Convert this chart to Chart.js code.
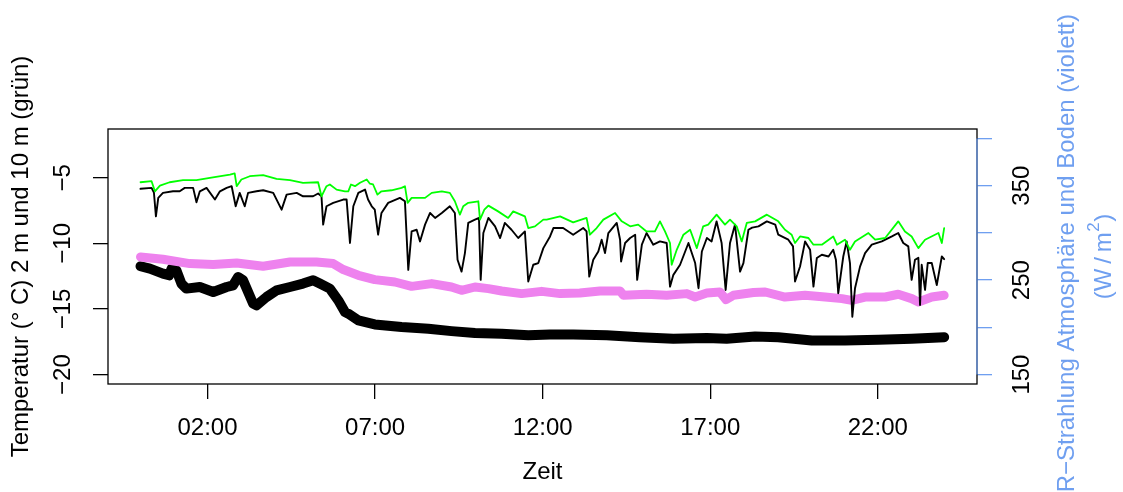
<!DOCTYPE html>
<html>
<head>
<meta charset="utf-8">
<title>Temperatur und IR-Strahlung</title>
<style>
  html, body { margin: 0; padding: 0; background: #fff; }
  #chart { display: block; }
</style>
</head>
<body>
<canvas id="chart" width="1123" height="492"></canvas>
<script src="https://cdn.jsdelivr.net/npm/chart.js@4/dist/chart.umd.min.js"></script>
<script>
// [Stunde, Wert] pairs
var temp10m = [
  [0.00,-5.34],[0.33,-5.26],[0.43,-6.03],[0.58,-5.59],[0.87,-5.34],[1.27,-5.18],[1.67,-5.18],[2.07,-5.00],[2.67,-4.75],[2.81,-4.67],
  [2.87,-5.64],[3.01,-5.13],[3.26,-4.88],[3.66,-4.80],[4.06,-5.08],[4.46,-5.18],[4.85,-5.38],[5.30,-5.34],[5.40,-6.41],[5.55,-5.64],
  [5.65,-5.51],[5.85,-5.90],[6.10,-6.03],[6.20,-6.03],[6.28,-5.51],[6.40,-5.64],[6.55,-5.38],[6.75,-5.13],[6.84,-5.44],[6.94,-5.51],
  [7.07,-6.28],[7.19,-6.03],[7.49,-5.95],[7.79,-5.77],[7.89,-5.64],[7.97,-6.91],[8.09,-6.53],[8.49,-6.53],[8.69,-6.15],[8.99,-6.03],
  [9.23,-6.15],[9.38,-6.79],[9.53,-7.81],[9.63,-7.17],[9.78,-6.91],[10.08,-6.79],[10.13,-8.19],[10.26,-7.43],[10.38,-7.12],[10.67,-7.56],
  [10.97,-8.06],[11.12,-7.56],[11.47,-7.94],[11.57,-8.83],[11.77,-8.70],[12.02,-8.19],[12.12,-8.19],[12.52,-7.94],[12.91,-8.40],[13.31,-8.06],
  [13.41,-9.34],[13.61,-8.83],[13.81,-8.19],[14.16,-7.68],[14.36,-8.32],[14.61,-8.70],[14.85,-8.57],[15.10,-9.09],[15.35,-9.09],[15.50,-8.32],
  [15.65,-9.09],[15.80,-9.97],[15.85,-11.63],[16.00,-10.49],[16.20,-9.34],[16.40,-8.96],[16.60,-10.36],[16.79,-8.70],[16.94,-8.57],[17.19,-7.81],
  [17.44,-8.57],[17.59,-8.19],[17.79,-8.70],[17.94,-9.85],[18.09,-8.44],[18.34,-8.32],[18.69,-7.81],[19.03,-8.32],[19.23,-8.96],[19.43,-9.34],
  [19.53,-9.97],[19.68,-9.47],[19.93,-9.59],[20.08,-10.10],[20.33,-10.10],[20.67,-9.47],[20.78,-10.10],[21.02,-9.72],[21.17,-10.49],[21.32,-9.85],
  [21.72,-9.21],[21.92,-9.72],[22.22,-9.59],[22.61,-8.32],[22.81,-9.09],[23.01,-9.47],[23.21,-10.36],[23.41,-9.72],[23.81,-9.21],[23.91,-9.97],
  [23.98,-8.83]
];

var temp2m = [
  [0.00,-5.84],[0.33,-5.77],[0.40,-6.12],[0.46,-7.94],[0.53,-6.53],[0.67,-6.15],[0.97,-6.03],[1.17,-6.03],[1.32,-5.77],[1.57,-5.77],
  [1.67,-6.87],[1.77,-6.03],[1.97,-5.77],[2.22,-6.66],[2.37,-6.03],[2.57,-5.77],[2.72,-5.64],[2.84,-7.17],[2.96,-6.15],[3.11,-7.17],
  [3.21,-6.15],[3.46,-6.03],[3.66,-5.95],[3.96,-6.15],[4.21,-7.43],[4.36,-6.28],[4.66,-6.15],[4.85,-6.41],[5.15,-6.41],[5.30,-6.20],
  [5.40,-6.41],[5.45,-8.57],[5.55,-7.17],[5.75,-6.91],[6.05,-6.66],[6.15,-6.66],[6.25,-9.97],[6.35,-7.17],[6.50,-6.15],[6.70,-5.90],
  [6.79,-6.66],[6.90,-7.17],[6.99,-7.43],[7.09,-9.34],[7.19,-7.68],[7.39,-6.91],[7.74,-6.53],[7.89,-6.79],[7.99,-12.02],[8.09,-9.09],
  [8.24,-8.96],[8.34,-9.85],[8.49,-8.57],[8.64,-7.68],[8.79,-8.06],[8.99,-7.68],[9.23,-7.17],[9.38,-7.68],[9.46,-11.25],[9.58,-12.15],
  [9.68,-10.74],[9.78,-8.44],[9.98,-8.19],[10.10,-8.06],[10.15,-12.78],[10.23,-9.21],[10.38,-8.06],[10.58,-8.70],[10.73,-9.59],[10.87,-8.44],
  [11.07,-8.96],[11.27,-9.59],[11.47,-9.09],[11.57,-12.91],[11.72,-11.63],[11.87,-11.50],[12.02,-10.36],[12.22,-9.47],[12.32,-8.83],[12.61,-8.83],
  [12.91,-9.34],[13.21,-8.83],[13.31,-9.09],[13.39,-12.53],[13.51,-11.25],[13.66,-10.62],[13.76,-9.72],[13.86,-10.74],[13.96,-9.21],[14.21,-8.44],
  [14.31,-9.72],[14.34,-11.38],[14.46,-9.97],[14.61,-9.59],[14.76,-9.34],[14.82,-12.78],[14.96,-10.10],[15.10,-9.21],[15.30,-10.10],[15.50,-9.85],
  [15.70,-9.97],[15.80,-13.30],[15.90,-12.40],[16.10,-11.63],[16.35,-9.97],[16.55,-11.50],[16.65,-13.42],[16.75,-10.62],[16.90,-9.59],[17.04,-9.85],
  [17.19,-8.32],[17.34,-9.97],[17.46,-13.55],[17.59,-9.97],[17.74,-8.57],[17.89,-12.15],[17.99,-11.50],[18.14,-8.96],[18.25,-8.80],[18.44,-8.70],
  [18.69,-8.32],[18.94,-8.57],[19.03,-9.34],[19.33,-9.72],[19.47,-10.23],[19.53,-12.91],[19.68,-11.76],[19.83,-9.85],[19.98,-10.49],[20.08,-13.30],
  [20.18,-11.12],[20.33,-10.87],[20.53,-11.00],[20.67,-10.49],[20.75,-11.25],[20.82,-13.80],[20.97,-11.00],[21.07,-9.85],[21.17,-11.50],[21.24,-15.59],
  [21.32,-13.42],[21.47,-11.77],[21.62,-10.74],[21.82,-10.10],[22.12,-9.85],[22.42,-9.47],[22.61,-9.21],[22.76,-9.97],[22.91,-10.23],[23.01,-12.78],
  [23.11,-11.25],[23.21,-11.10],[23.26,-14.70],[23.31,-11.63],[23.41,-13.55],[23.49,-11.50],[23.61,-11.50],[23.76,-13.17],[23.91,-11.00],[23.98,-11.20]
];

// W/m2, rechte Achse
var irAtmos = [
  [0.00,274.5],[0.67,272.1],[1.47,267.5],[2.17,266.5],[2.87,268.2],[3.66,264.7],[4.46,269.2],[5.25,269.2],[5.75,267.5],[6.05,261.2],
  [6.50,255.1],[6.99,250.5],[7.59,248.0],[8.09,243.4],[8.69,246.3],[9.28,242.7],[9.58,239.2],[9.98,242.7],[10.38,241.0],[10.78,238.5],
  [11.37,235.7],[11.97,238.1],[12.52,235.7],[13.11,236.3],[13.71,238.5],[14.31,238.5],[14.41,233.9],[15.10,235.0],[15.70,233.9],[16.30,235.7],
  [16.55,232.1],[16.90,236.3],[17.29,237.4],[17.47,229.3],[17.69,233.9],[18.29,236.8],[18.64,237.4],[19.23,232.1],[19.83,233.9],[20.43,232.1],
  [20.93,230.4],[21.22,228.6],[21.62,232.1],[22.22,232.1],[22.61,235.0],[23.01,230.4],[23.21,226.8],[23.61,232.1],[23.98,233.9]
];

var irBoden = [
  [0.00,264.7],[0.28,262.2],[0.67,256.9],[0.85,255.1],[0.93,262.2],[1.07,260.4],[1.22,246.3],[1.37,241.0],[1.77,242.7],[2.17,237.4],
  [2.57,242.7],[2.76,244.5],[2.91,253.3],[3.06,249.8],[3.36,225.1],[3.46,223.3],[3.76,232.1],[4.06,239.2],[4.46,242.7],[4.85,246.3],
  [5.15,249.8],[5.35,246.3],[5.65,241.0],[5.90,228.6],[6.10,216.2],[6.20,214.5],[6.50,207.4],[6.99,203.1],[7.79,200.3],[8.59,198.6],
  [9.28,196.0],[9.98,193.9],[10.78,193.3],[11.57,191.5],[12.22,192.5],[12.91,192.5],[13.91,191.5],[14.90,189.6],[15.90,188.0],[16.90,188.6],
  [17.49,188.0],[18.34,190.4],[19.03,189.6],[20.03,186.1],[21.02,186.1],[22.02,186.9],[23.01,188.0],[23.98,189.6]
];

var xTickHours = [2, 7, 12, 17, 22];
var leftTicks = [-20, -15, -10, -5];
var rightTicks = [150, 200, 250, 300, 350, 400];
var rightLabels = [150, 250, 350];

var leftTitle = 'Temperatur (° C) 2 m und 10 m (grün)';
var rightTitle = 'IR\u2212Strahlung Atmosphäre und Boden (violett)';
var xTitle = 'Zeit';

var BLUE = '#6f9ff0';
var FONT = '"Liberation Sans", Arial, Helvetica, sans-serif';

function pts(a) { return a.map(function (p) { return { x: p[0], y: p[1] }; }); }
function hhmm(v) { return (v < 10 ? '0' : '') + v + ':00'; }
function minus(v) { return String(v).replace('-', '\u2212'); }

// R-style frame, rotated tick labels and side titles
var rFrame = {
  id: 'rFrame',
  afterDraw: function (chart) {
    var ctx = chart.ctx, a = chart.chartArea;
    var yl = chart.scales.y, yr = chart.scales.y2;
    var mid = (a.top + a.bottom) / 2;
    ctx.save();
    ctx.strokeStyle = '#000';
    ctx.lineWidth = 1.3;
    ctx.strokeRect(a.left, a.top, a.right - a.left, a.bottom - a.top);

    ctx.strokeStyle = BLUE;
    ctx.beginPath();
    ctx.moveTo(a.right, yr.getPixelForValue(rightTicks[0]));
    ctx.lineTo(a.right, yr.getPixelForValue(rightTicks[rightTicks.length - 1]));
    ctx.stroke();

    var big = '24px ' + FONT, small = '17px ' + FONT;
    ctx.font = big;
    ctx.textAlign = 'center';
    ctx.textBaseline = 'middle';
    function vtext(t, x, y) {
      ctx.save();
      ctx.translate(x, y);
      ctx.rotate(-Math.PI / 2);
      ctx.fillText(t, 0, 0);
      ctx.restore();
    }
    ctx.fillStyle = '#000';
    leftTicks.forEach(function (v) { vtext(minus(v), a.left - 45, yl.getPixelForValue(v)); });
    rightLabels.forEach(function (v) { vtext(String(v), a.right + 45, yr.getPixelForValue(v)); });
    vtext(leftTitle, a.left - 87, mid);
    ctx.fillStyle = BLUE;
    vtext(rightTitle, a.right + 90, mid);

    // (W/m^2) with a raised 2
    var p1 = '(W\u2009/\u2009m', p2 = '2', p3 = ')';
    ctx.font = big; var w1 = ctx.measureText(p1).width, w3 = ctx.measureText(p3).width;
    ctx.font = small; var w2 = ctx.measureText(p2).width;
    ctx.save();
    ctx.translate(a.right + 127, mid);
    ctx.rotate(-Math.PI / 2);
    ctx.textAlign = 'left';
    var x0 = -(w1 + w2 + w3 + 1) / 2;
    ctx.font = big; ctx.fillText(p1, x0, 0);
    ctx.font = small; ctx.fillText(p2, x0 + w1 + 0.5, -10);
    ctx.font = big; ctx.fillText(p3, x0 + w1 + w2 + 1, 0);
    ctx.restore();
    ctx.restore();
  }
};

var ctx = document.getElementById('chart').getContext('2d');
var chart = new Chart(ctx, {
  type: 'line',
  data: {
    datasets: [
      { label: '10 m', data: pts(temp10m), yAxisID: 'y', borderColor: '#00ff00', borderWidth: 1.8 },
      { label: '2 m', data: pts(temp2m), yAxisID: 'y', borderColor: '#000000', borderWidth: 1.9 },
      { label: 'Atmosphäre', data: pts(irAtmos), yAxisID: 'y2', borderColor: '#ee82ee', borderWidth: 9 },
      { label: 'Boden', data: pts(irBoden), yAxisID: 'y2', borderColor: '#000000', borderWidth: 10 }
    ]
  },
  options: {
    responsive: false,
    animation: false,
    events: [],
    devicePixelRatio: 1,
    layout: { padding: { top: 129, left: 0, right: 0, bottom: 0 } },
    elements: {
      point: { radius: 0 },
      line: { tension: 0, borderCapStyle: 'round', borderJoinStyle: 'round', fill: false }
    },
    plugins: { legend: { display: false }, tooltip: { enabled: false } },
    scales: {
      x: {
        type: 'linear', min: -0.97, max: 24.96,
        afterBuildTicks: function (s) { s.ticks = xTickHours.map(function (v) { return { value: v }; }); },
        afterFit: function (s) { s.height = 108; },
        border: { display: false },
        grid: { drawOnChartArea: false, drawTicks: true, tickLength: 15, color: '#000', lineWidth: 1.3 },
        ticks: {
          autoSkip: false, maxRotation: 0, padding: 15, color: '#000',
          font: { family: FONT, size: 24 },
          callback: function (v) { return hhmm(v); }
        },
        title: { display: true, text: xTitle, color: '#000', font: { family: FONT, size: 24 }, padding: { top: 0, bottom: 5 } }
      },
      y: {
        type: 'linear', position: 'left', min: -20.72, max: -1.28,
        afterBuildTicks: function (s) { s.ticks = leftTicks.map(function (v) { return { value: v }; }); },
        afterFit: function (s) { s.width = 108; },
        border: { display: false },
        grid: { drawOnChartArea: false, drawTicks: true, tickLength: 15, color: '#000', lineWidth: 1.3 },
        ticks: { display: false }
      },
      y2: {
        type: 'linear', position: 'right', min: 140, max: 410,
        afterBuildTicks: function (s) { s.ticks = rightTicks.map(function (v) { return { value: v }; }); },
        afterFit: function (s) { s.width = 146; },
        border: { display: false },
        grid: { drawOnChartArea: false, drawTicks: true, tickLength: 15, color: BLUE, lineWidth: 1.3 },
        ticks: { display: false }
      }
    }
  },
  plugins: [rFrame]
});
</script>
</body>
</html>
